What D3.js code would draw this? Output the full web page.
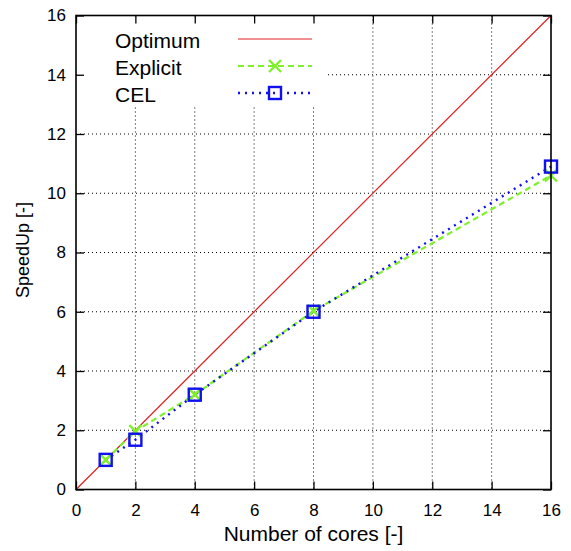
<!DOCTYPE html>
<html>
<head>
<meta charset="utf-8">
<script src="https://d3js.org/d3.v7.min.js"></script>
<style>
  body { margin: 0; background: #fff; }
  svg { display: block; font-family: "Liberation Sans", Arial, sans-serif; }
</style>
</head>
<body>
<svg id="chart" width="571" height="551"></svg>
<script>
var cores = [1, 2, 4, 8, 16];
var explicitSpeedup = [1, 1.97, 3.2, 6.03, 10.6];
var celSpeedup = [1, 1.68, 3.2, 6.0, 10.9];
var optimum = [[0, 0], [16, 16]];
var ticks = [0, 2, 4, 6, 8, 10, 12, 14, 16];

var margin = { top: 15.5, right: 20, bottom: 61.5, left: 76 },
  width = 571 - margin.left - margin.right,
  height = 551 - margin.top - margin.bottom;

var svg = d3.select("#chart");
var canvas = svg.append("g")
  .attr("transform", "translate(" + margin.left + "," + margin.top + ")");

var xScale = d3.scaleLinear().domain([0, 16]).range([0, width]);
var yScale = d3.scaleLinear().domain([0, 16]).range([height, 0]);

// grid
canvas.append("g").selectAll("line.vg")
  .data(ticks.slice(1, -1))
  .enter().append("line")
  .attr("x1", function(d) { return xScale(d); })
  .attr("x2", function(d) { return xScale(d); })
  .attr("y1", 0).attr("y2", height)
  .style("stroke", "#000").style("stroke-width", 1)
  .style("stroke-dasharray", "1,3");

canvas.append("g").selectAll("line.hg")
  .data(ticks.slice(1, -1))
  .enter().append("line")
  .attr("y1", function(d) { return yScale(d); })
  .attr("y2", function(d) { return yScale(d); })
  .attr("x1", 0).attr("x2", width)
  .style("stroke", "#000").style("stroke-width", 1)
  .style("stroke-dasharray", "1,3");

// key background hides the grid
canvas.append("rect")
  .attr("x", 1).attr("y", 1)
  .attr("width", 249).attr("height", 90)
  .style("fill", "#fff");

// axes (ticks inward)
var xAxis = d3.axisBottom(xScale).tickValues(ticks).tickSize(-8).tickPadding(14);
var yAxis = d3.axisLeft(yScale).tickValues(ticks).tickSize(-8).tickPadding(10);

var gx = canvas.append("g")
  .attr("transform", "translate(0," + height + ")")
  .call(xAxis);
var gy = canvas.append("g").call(yAxis);
canvas.append("g").call(d3.axisTop(xScale).tickValues(ticks).tickSize(-8).tickFormat(""));
canvas.append("g").attr("transform", "translate(" + width + ",0)")
  .call(d3.axisRight(yScale).tickValues(ticks).tickSize(-8).tickFormat(""));

canvas.selectAll(".domain").remove();
canvas.selectAll(".tick line").style("stroke", "#000").style("stroke-width", 1.3);
canvas.selectAll(".tick text")
  .style("font-family", "Liberation Sans, Arial, sans-serif")
  .style("font-size", "17px")
  .style("fill", "#000");

// optimum line
var line = d3.line()
  .x(function(d) { return xScale(d[0]); })
  .y(function(d) { return yScale(d[1]); });

canvas.append("path")
  .datum(optimum)
  .attr("d", line)
  .style("fill", "none")
  .style("stroke", "#e02020")
  .style("stroke-width", 1.2);

var explicitPts = cores.map(function(c, i) { return [c, explicitSpeedup[i]]; });
var celPts = cores.map(function(c, i) { return [c, celSpeedup[i]]; });

canvas.append("path")
  .datum(explicitPts)
  .attr("d", line)
  .style("fill", "none")
  .style("stroke", "#7ff02a")
  .style("stroke-width", 2.2)
  .style("stroke-dasharray", "6,4");

canvas.append("path")
  .datum(celPts)
  .attr("d", line)
  .style("fill", "none")
  .style("stroke", "#1010f0")
  .style("stroke-width", 2.4)
  .style("stroke-dasharray", "2,5");

var cross = function(sel, x, y) {
  var s = 6;
  sel.append("path")
    .attr("d", "M" + (x - s) + "," + (y - s) + "L" + (x + s) + "," + (y + s) +
      "M" + (x - s) + "," + (y + s) + "L" + (x + s) + "," + (y - s))
    .style("stroke", "#7ff02a").style("stroke-width", 2.4).style("fill", "none");
};
var square = function(sel, x, y) {
  sel.append("rect")
    .attr("x", x - 6).attr("y", y - 6)
    .attr("width", 12).attr("height", 12)
    .style("stroke", "#1010f0").style("stroke-width", 2.4).style("fill", "none");
};

explicitPts.forEach(function(d) { cross(canvas, xScale(d[0]), yScale(d[1])); });
celPts.forEach(function(d) { square(canvas, xScale(d[0]), yScale(d[1])); });

// frame
canvas.append("rect")
  .attr("width", width).attr("height", height)
  .style("fill", "none").style("stroke", "#000").style("stroke-width", 1.6);

// key
var keyItems = ["Optimum", "Explicit", "CEL"];
var key = canvas.append("g");
keyItems.forEach(function(name, i) {
  var y = 23.5 + i * 27;
  key.append("text")
    .attr("x", 39).attr("y", y + 9)
    .style("font-size", "21px").style("fill", "#000")
    .text(name);
  var seg = key.append("line")
    .attr("x1", 162).attr("x2", 236)
    .attr("y1", y).attr("y2", y)
    .style("fill", "none");
  if (i === 0) {
    seg.style("stroke", "#e02020").style("stroke-width", 1.2);
  } else if (i === 1) {
    seg.style("stroke", "#7ff02a").style("stroke-width", 2.2).style("stroke-dasharray", "6,4");
    cross(key, 199, y);
  } else {
    seg.style("stroke", "#1010f0").style("stroke-width", 2.4).style("stroke-dasharray", "2,5");
    square(key, 199, y);
  }
});

// axis labels
svg.append("text")
  .attr("x", margin.left + width / 2)
  .attr("y", 541)
  .style("font-size", "21px").style("fill", "#000")
  .style("text-anchor", "middle")
  .text("Number of cores [-]");

svg.append("text")
  .attr("transform", "translate(29,250) rotate(-90)")
  .style("font-size", "18px").style("fill", "#000")
  .style("text-anchor", "middle")
  .text("SpeedUp [-]");
</script>
</body>
</html>
